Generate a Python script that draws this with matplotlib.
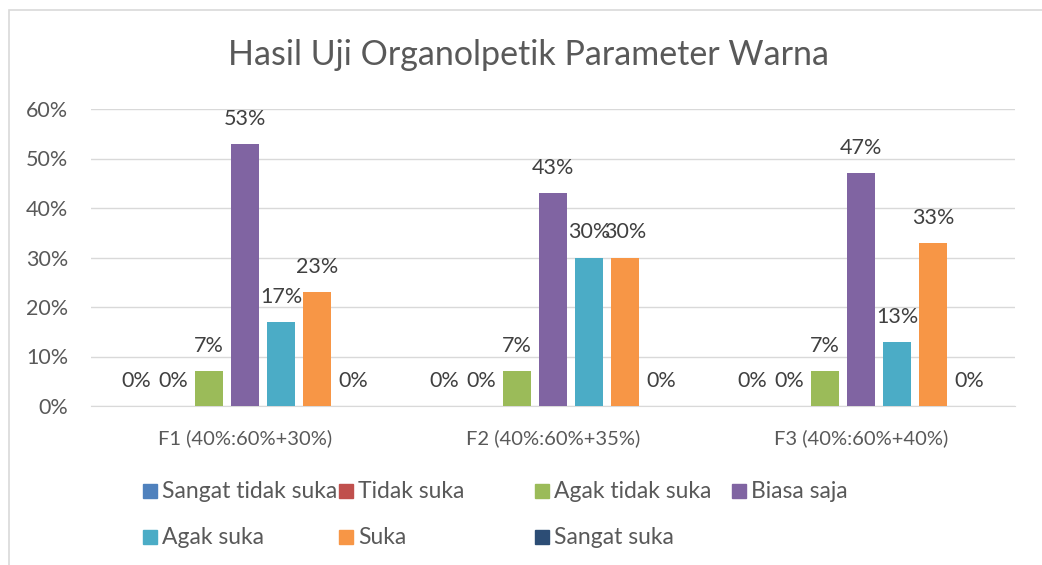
import matplotlib
matplotlib.use("Agg")
import matplotlib.pyplot as plt
from matplotlib.patches import Rectangle
import numpy as np

categories = ["F1 (40%:60%+30%)", "F2 (40%:60%+35%)", "F3 (40%:60%+40%)"]
series_names = ["Sangat tidak suka", "Tidak suka", "Agak tidak suka", "Biasa saja",
                "Agak suka", "Suka", "Sangat suka"]
values = {
    "Sangat tidak suka": [0, 0, 0],
    "Tidak suka": [0, 0, 0],
    "Agak tidak suka": [7, 7, 7],
    "Biasa saja": [53, 43, 47],
    "Agak suka": [17, 30, 13],
    "Suka": [23, 30, 33],
    "Sangat suka": [0, 0, 0],
}
colors = ["#4f81bd", "#c0504d", "#9bbb59", "#8064a2", "#4bacc6", "#f79646", "#2c4d75"]
yticks = [0, 10, 20, 30, 40, 50, 60]
title = "Hasil Uji Organolpetik Parameter Warna"

FONT = "Lato"
TXT = "#595959"

W, H = 1042, 565
fig = plt.figure(figsize=(W / 100, H / 100), dpi=100)
fig.patches.append(Rectangle((9 / W, -0.1), 1.2, (H - 10) / H + 0.1,
                             transform=fig.transFigure, fill=False,
                             edgecolor="#d9d9d9", lw=1.2))

ax = fig.add_axes([91 / W, (H - 406) / H, (1015 - 91) / W, (406 - 109) / H])
x = np.arange(len(categories))
step = 36 / 307
bw = 28 / 307
for i, name in enumerate(series_names):
    pos = x + (i - 3) * step
    vals = values[name]
    ax.bar(pos, vals, width=bw, color=colors[i], zorder=3)
    for p, v in zip(pos, vals):
        ax.annotate(f"{v}%", (p, v), xytext=(0, 25), textcoords="offset pixels",
                    ha="center", va="center", fontsize=15.5, color="#404040",
                    family=FONT)

ax.set_ylim(0, 60)
ax.set_xlim(-0.5, 2.5)
ax.set_yticks(yticks)
ax.set_yticklabels([f"{t}%" for t in yticks], fontsize=15.5, color=TXT, family=FONT)
ax.set_xticks(x)
ax.set_xticklabels(categories, fontsize=14.5, color=TXT, family=FONT, va="center")
ax.tick_params(axis="both", length=0)
ax.tick_params(axis="x", pad=23)
ax.tick_params(axis="y", pad=16.5)
ax.grid(axis="y", color="#d9d9d9", lw=1, zorder=0)
for s in ["top", "right", "left"]:
    ax.spines[s].set_visible(False)
ax.spines["bottom"].set_color("#d9d9d9")

fig.text(528 / W, (H - 55) / H, title, ha="center", va="center",
         fontsize=24.5, color=TXT, family=FONT)

# legend
leg_pos = [(143, 491), (339, 491), (535, 491), (732, 491),
           (143, 537), (339, 537), (535, 537)]
for (lx, ly), name, c in zip(leg_pos, series_names, colors):
    fig.patches.append(Rectangle((lx / W, (H - ly - 7) / H), 14 / W, 14 / H,
                                 transform=fig.transFigure, color=c))
    fig.text((lx + 19) / W, (H - ly) / H, name, ha="left", va="center",
             fontsize=16.5, color=TXT, family=FONT)

fig.savefig("out.png", dpi=100)
